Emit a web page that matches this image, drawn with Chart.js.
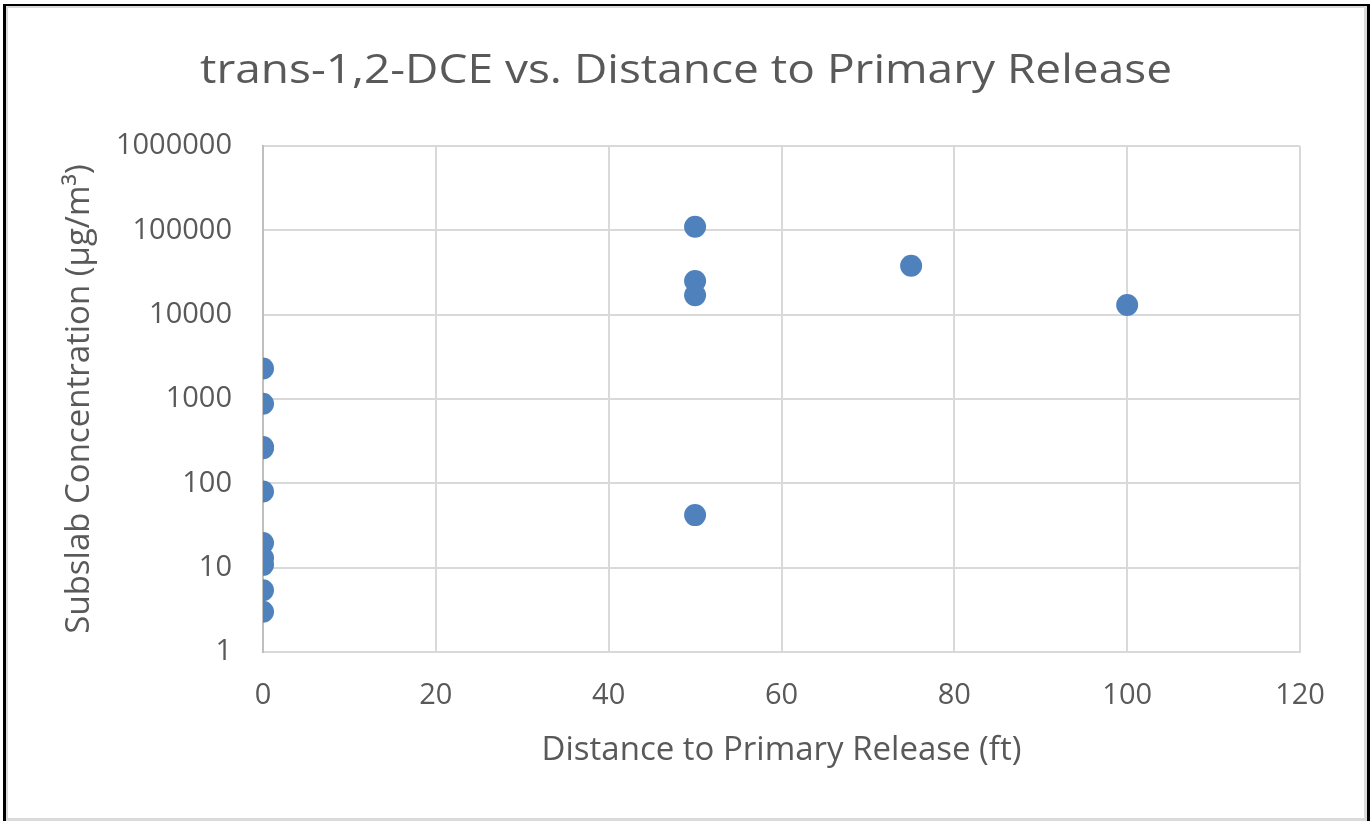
<!DOCTYPE html>
<html>
<head>
<meta charset="utf-8">
<script src="https://cdn.jsdelivr.net/npm/chart.js@4.4.1/dist/chart.umd.min.js"></script>
<style>
  html, body { margin: 0; padding: 0; background: #ffffff; }
  #frame { position: absolute; left: 0; top: 0; width: 1371px; height: 821px; overflow: hidden; }
  #c { position: absolute; left: 0; top: 0; }
  .edge { position: absolute; }
  .dark { background: #000000; }
  .light { background: #dadada; }
</style>
</head>
<body>
<div id="frame">
  <canvas id="c" width="1371" height="821"></canvas>
  <!-- outer frame -->
  <div class="edge dark" style="left:3px;top:4px;width:3px;height:817px;"></div>
  <div class="edge dark" style="left:3px;top:4px;width:1367px;height:2px;"></div>
  <div class="edge dark" style="left:1367px;top:4px;width:3px;height:817px;"></div>
  <!-- inner chart border -->
  <div class="edge light" style="left:6px;top:6px;width:2px;height:815px;"></div>
  <div class="edge light" style="left:6px;top:6px;width:1361px;height:2px;"></div>
  <div class="edge light" style="left:1364px;top:6px;width:3px;height:815px;"></div>
  <div class="edge light" style="left:6px;top:818px;width:1361px;height:3px;"></div>
</div>
<script>
// Sample locations: distance from the primary release (ft) and subslab result (µg/m³)
const distanceFt    = [0, 0, 0, 0, 0, 0, 0, 0, 0, 0, 50, 50, 50, 50, 75, 100];
const concentration = [2300, 880, 270, 260, 80, 19.6, 13, 10.8, 5.4, 3.0, 110000, 25000, 17000, 42, 38000, 13000];

// Axis ticks
const xTicks = [0, 20, 40, 60, 80, 100, 120];
const yTicks = [1, 10, 100, 1000, 10000, 100000, 1000000];

const titleText  = 'trans-1,2-DCE vs. Distance to Primary Release';
const xAxisTitle = 'Distance to Primary Release (ft)';
const yAxisTitle = 'Subslab Concentration (µg/m³)';

const textColor = '#595959';
const gridColor = '#d9d9d9';
const fontFamily = '"Open Sans", "Liberation Sans", sans-serif';

const points = distanceFt.map((d, i) => ({ x: d, y: concentration[i] }));

// Chart title, centred over the whole canvas and set slightly wide
const chartTitle = {
  id: 'chartTitle',
  afterDraw(chart) {
    const ctx = chart.ctx;
    ctx.save();
    ctx.font = '40px ' + fontFamily;
    ctx.fillStyle = textColor;
    ctx.textAlign = 'center';
    ctx.textBaseline = 'alphabetic';
    const natural = ctx.measureText(titleText).width;
    const stretch = 972 / natural;
    ctx.translate(686, 83);
    ctx.scale(stretch, 1);
    ctx.fillText(titleText, 0, 0);
    ctx.restore();
  }
};

new Chart(document.getElementById('c'), {
  type: 'scatter',
  data: {
    datasets: [{
      data: points,
      backgroundColor: '#4F81BD',
      borderWidth: 0,
      pointRadius: 11,
      pointHoverRadius: 11
    }]
  },
  plugins: [chartTitle],
  options: {
    responsive: false,
    animation: false,
    devicePixelRatio: 1,
    events: [],
    layout: { padding: { left: 0, right: 71, top: 146, bottom: 0 } },
    plugins: {
      legend: { display: false },
      tooltip: { enabled: false },
      title: { display: false }
    },
    scales: {
      x: {
        type: 'linear',
        min: 0,
        max: 120,
        afterBuildTicks: s => { s.ticks = xTicks.map(v => ({ value: v })); },
        afterFit: s => { s.height = 169; },
        ticks: {
          color: textColor,
          font: { family: fontFamily, size: 29 },
          padding: 26,
          maxRotation: 0
        },
        grid: { color: gridColor, lineWidth: 2, drawTicks: false, tickLength: 0 },
        border: { color: gridColor, width: 2 },
        title: {
          display: true,
          text: xAxisTitle,
          color: textColor,
          font: { family: fontFamily, size: 33 },
          padding: { top: 0, bottom: 51 }
        }
      },
      y: {
        type: 'logarithmic',
        min: 1,
        max: 1000000,
        afterBuildTicks: s => { s.ticks = yTicks.map(v => ({ value: v })); },
        afterFit: s => { s.width = 263; },
        ticks: {
          color: textColor,
          font: { family: fontFamily, size: 29 },
          padding: 31,
          callback: v => String(v)
        },
        grid: { color: gridColor, lineWidth: 2, drawTicks: false, tickLength: 0 },
        border: { color: '#bfbfbf', width: 2 },
        title: {
          display: true,
          text: yAxisTitle,
          color: textColor,
          font: { family: fontFamily, size: 33 },
          padding: { top: 60, bottom: 0 }
        }
      }
    }
  }
});
</script>
</body>
</html>
